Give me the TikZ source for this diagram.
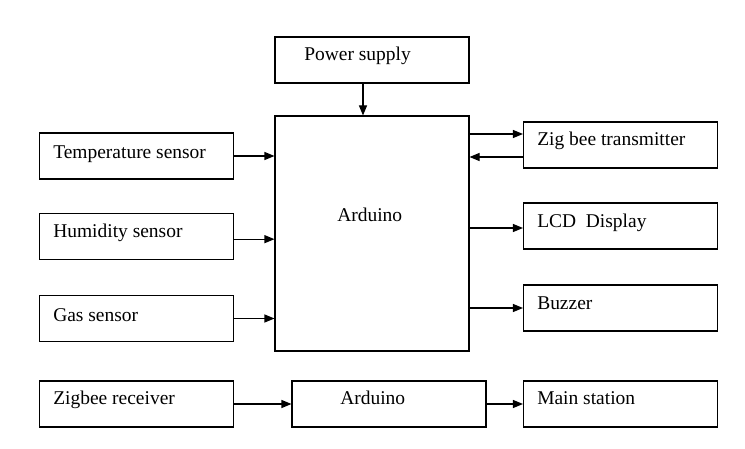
\documentclass[tikz,border=0pt]{standalone}
\usepackage{fontspec}
\setmainfont{Liberation Serif}
\usetikzlibrary{arrows.meta, positioning, calc}

\begin{document}
\begin{tikzpicture}[x=0.75pt, y=-0.75pt, font=\fontsize{14.6pt}{17pt}\selectfont,
        blk/.style={draw=black, line width=0.8pt, fill=white, inner sep=0pt,
                    minimum width=145.5pt, minimum height=34.5pt},
        txt/.style={anchor=base west, inner sep=0pt},
        link/.style={-{Triangle[length=7.5pt, width=6pt]}, line width=0.8pt}]
        \useasboundingbox (0,0) rectangle (745,449);
        % blocks
        \node[blk] (power) at (372,60) {};
        \node[blk, minimum height=176.25pt] (ard) at (372,233.5) {};
        \node[blk] (temp) at (136.5,156) {};
        \node[blk] (humid) at (136.5,236.5) {};
        \node[blk] (gas) at (136.5,318.5) {};
        \node[blk] (zig) at (620.5,145) {};
        \node[blk] (lcd) at (620.5,226) {};
        \node[blk] (buzz) at (620.5,308) {};
        \node[blk] (recv) at (136.5,404) {};
        \node[blk] (ardb) at (389,404) {};
        \node[blk] (main) at (620.5,404) {};
        % labels
        \node[txt] (powerT) at (304,61) {Power supply};
        \node[txt] (ardT) at (337,221) {Arduino};
        \node[txt] (tempT) at (53,158) {Temperature sensor};
        \node[txt] (humidT) at (53,237) {Humidity sensor};
        \node[txt] (gasT) at (53,321) {Gas sensor};
        \node[txt] (zigT) at (537,146) {Zig bee transmitter};
        \node[txt] (lcdT) at (537,227) {LCD~ Display};
        \node[txt] (buzzT) at (537,309) {Buzzer};
        \node[txt] (recvT) at (53,404) {Zigbee receiver};
        \node[txt] (ardbT) at (340,404) {Arduino};
        \node[txt] (mainT) at (537,404) {Main station};
        % connector ends
        \coordinate (powerS) at ([xshift=-6.75pt]power.south);
        \coordinate (humidE) at ([yshift=-2pt]humid.east);
        \coordinate (zigIn) at ([yshift=8.25pt]zig.west);
        \coordinate (zigOut) at ([yshift=-9pt]zig.west);
        \coordinate (lcdIn) at ([yshift=-1.5pt]lcd.west);
        % connectors
        \draw[link] (powerS) -- (powerS |- ard.north);
        \draw[link] (temp.east) -- (ard.west |- temp.east);
        \draw[link] (humidE) -- (ard.west |- humidE);
        \draw[link] (gas.east) -- (ard.west |- gas.east);
        \draw[link] (ard.east |- zigIn) -- (zigIn);
        \draw[link] (zigOut) -- (ard.east |- zigOut);
        \draw[link] (ard.east |- lcdIn) -- (lcdIn);
        \draw[link] (ard.east |- buzz.west) -- (buzz.west);
        \draw[link] (recv.east) -- (ardb.west);
        \draw[link] (ardb.east) -- (main.west);
      \end{tikzpicture}
\end{document}
